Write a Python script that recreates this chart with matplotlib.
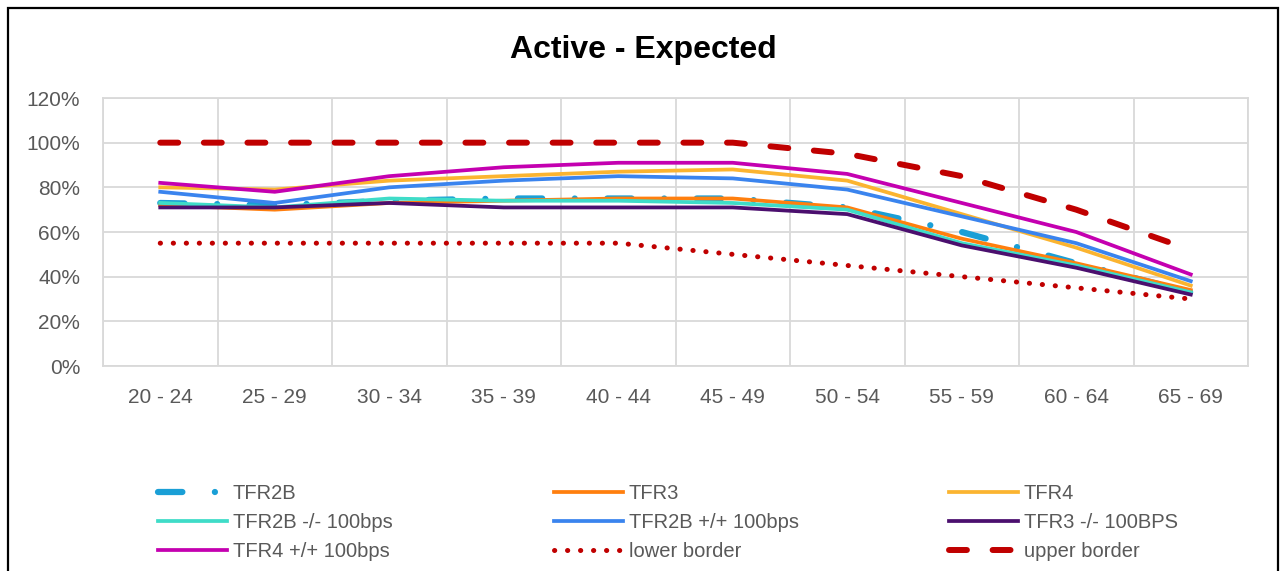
import matplotlib
matplotlib.use("Agg")
import matplotlib.pyplot as plt
from matplotlib.patches import Rectangle
from matplotlib.ticker import PercentFormatter

age_groups = ["20 - 24", "25 - 29", "30 - 34", "35 - 39", "40 - 44",
              "45 - 49", "50 - 54", "55 - 59", "60 - 64", "65 - 69"]

tfr2b = [73, 72, 74, 75, 75, 75, 71, 60, 46, 33]
tfr3 = [72, 70, 73, 74, 75, 75, 71, 57, 46, 34]
tfr4 = [80, 79, 83, 85, 87, 88, 83, 68, 53, 36]
tfr2b_minus = [73, 71, 75, 74, 74, 73, 70, 55, 45, 33]
tfr2b_plus = [78, 73, 80, 83, 85, 84, 79, 67, 55, 38]
tfr3_minus = [71, 71, 73, 71, 71, 71, 68, 54, 44, 32]
tfr4_plus = [82, 78, 85, 89, 91, 91, 86, 73, 60, 41]
lower_border = [55, 55, 55, 55, 55, 50, 45, 40, 35, 30]
upper_border = [100, 100, 100, 100, 100, 100, 95, 85, 70, 52]

W, H = 1281, 571
fig = plt.figure(figsize=(W / 100, H / 100), dpi=100)
ax = fig.add_axes([103 / W, 1 - 366 / H, 1145 / W, 268 / H])

x = list(range(len(age_groups)))
lines = []
lines += ax.plot(x, tfr2b, color="#1a9fd6", lw=4.5, dashes=(3.9, 5.2, 0.01, 5.2),
                 dash_capstyle="round", label="TFR2B")
lines += ax.plot(x, tfr3, color="#ff7f0e", lw=2.7, label="TFR3")
lines += ax.plot(x, tfr4, color="#fbb430", lw=2.7, label="TFR4")
lines += ax.plot(x, tfr2b_minus, color="#3fdcc8", lw=2.7, label="TFR2B -/- 100bps")
lines += ax.plot(x, tfr2b_plus, color="#3a84ee", lw=2.7, label="TFR2B +/+ 100bps")
lines += ax.plot(x, tfr3_minus, color="#4b0f6e", lw=2.7, label="TFR3 -/- 100BPS")
lines += ax.plot(x, tfr4_plus, color="#c400b0", lw=2.7, label="TFR4 +/+ 100bps")
lines += ax.plot(x, lower_border, color="#c00000", lw=3.6, dashes=(0.05, 2.55),
                 dash_capstyle="round", label="lower border")
lines += ax.plot(x, upper_border, color="#c00000", lw=4.3, dashes=(3.0, 4.3),
                 dash_capstyle="round", label="upper border")

ax.set_xlim(-0.5, len(age_groups) - 0.5)
ax.set_ylim(0, 120)
ax.set_yticks(range(0, 121, 20))
ax.yaxis.set_major_formatter(PercentFormatter(decimals=0))
ax.set_xticks(x)
ax.set_xticklabels(age_groups)
ax.set_xticks([i + 0.5 for i in range(-1, len(age_groups))], minor=True)
ax.grid(True, axis="y", color="#d9d9d9", lw=1.3)
ax.grid(True, axis="x", which="minor", color="#d9d9d9", lw=1.3)
ax.set_axisbelow(True)
ax.tick_params(which="both", length=0)
ax.tick_params(axis="x", pad=16, labelsize=15, labelcolor="#595959")
ax.tick_params(axis="y", pad=16.5, labelsize=15, labelcolor="#595959")
for lab in ax.get_xticklabels() + ax.get_yticklabels():
    lab.set_family(["Liberation Sans", "DejaVu Sans"])
for s in ax.spines.values():
    s.set_color("#d9d9d9")
    s.set_linewidth(1.3)

fig.text(643 / W, 1 - 50 / H, "Active - Expected", ha="center", va="center",
         fontsize=23, fontweight="bold", family=["Liberation Sans", "DejaVu Sans"])

# three legend columns, row-wise order like Excel
col_x = [148, 544, 939]
for c in range(3):
    hs = [lines[r * 3 + c] for r in range(3)]
    leg = fig.legend(hs, [h.get_label() for h in hs], loc="upper left",
                     bbox_to_anchor=(col_x[c] / W, 1 - 474 / H), frameon=False,
                     borderpad=0, handlelength=3.4, handletextpad=0.3, labelspacing=0.5,
                     prop={"family": ["Liberation Sans", "DejaVu Sans"], "size": 14.5},
                     labelcolor="#595959")

fig.add_artist(Rectangle((8 / W, -0.02), 1270 / W, 1.02 - 8 / H, transform=fig.transFigure,
                         fill=False, edgecolor="black", lw=1.6))

fig.savefig("out.png", dpi=100)
